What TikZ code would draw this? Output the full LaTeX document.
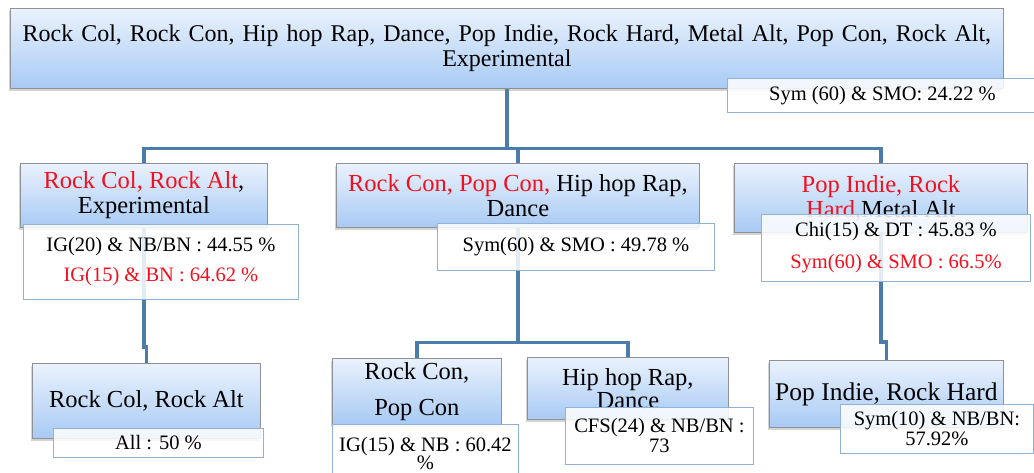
\documentclass[tikz,border=0pt]{standalone}
\usepackage{fontspec}
\setmainfont{Liberation Serif}
\usetikzlibrary{shadows,backgrounds}

\definecolor{boxTop}{HTML}{EAF2FD}
\definecolor{boxBottom}{HTML}{A8CAF4}
\definecolor{boxEdge}{HTML}{8E9296}
\definecolor{linkBlue}{HTML}{4C7DAA}
\definecolor{scoreEdge}{HTML}{8FB2D6}
\definecolor{hiRed}{HTML}{F2101E}

\begin{document}
\begin{tikzpicture}[x=1pt, y=-1pt,
	genre/.style={anchor=north west, draw=boxEdge, line width=0.8pt, top color=boxTop, bottom color=boxBottom, drop shadow={shadow xshift=-1pt, shadow yshift=-3pt, opacity=0.35}, align=center, inner sep=0pt, font=\fontsize{24.5}{25}\selectfont},
	score/.style={anchor=north west, draw=scoreEdge, line width=0.9pt, fill=white, fill opacity=0.85, text opacity=1, align=center, inner sep=0pt, font=\fontsize{20.5}{20}\selectfont},
	link/.style={draw=linkBlue, line width=3.2pt}]
	\useasboundingbox (0,0) rectangle (1034,472);
	% Specification of nodes (position, size)
	\node (Root)		[genre, minimum width=993, minimum height=80, text width=990, font=\fontsize{24}{25.5}\selectfont]	at (10,8)	{Rock Col, Rock Con, Hip hop Rap, Dance, Pop Indie, Rock Hard, Metal Alt, Pop Con, Rock Alt,\\ Experimental};
	\node (RootScore)	[score, minimum width=320, minimum height=34]						at (727,78)	{Sym (60) \& SMO: 24.22 \%\hspace*{10pt}};
	\node (ColAlt)		[genre, minimum width=247, minimum height=64]						at (20,163)	{\textcolor{hiRed}{Rock Col, Rock Alt},\\ Experimental};
	\node (ColAltScore)	[score, minimum width=275, minimum height=75, font=\fontsize{20.5}{30}\selectfont]	at (23,224)	{IG(20) \& NB/BN : 44.55 \%\\ \textcolor{hiRed}{IG(15) \& BN : 64.62 \%}};
	\node (ConPop)		[genre, minimum width=363, minimum height=64]						at (336,163)	{\textcolor{hiRed}{Rock Con, Pop Con,} Hip hop Rap,\\ Dance};
	\node (ConPopScore)	[score, minimum width=277, minimum height=47]						at (437,223)	{Sym(60) \& SMO : 49.78 \%};
	\node (IndieHard)	[genre, minimum width=293, minimum height=69]						at (734,163)	{\textcolor{hiRed}{Pop Indie, Rock}\\ \textcolor{hiRed}{Hard},Metal Alt};
	\node (IndieHardScore)	[score, minimum width=269, minimum height=67, font=\fontsize{20.5}{32}\selectfont]	at (761,214)	{Chi(15) \& DT : 45.83 \%\\ \textcolor{hiRed}{Sym(60) \& SMO : 66.5\%}};
	\node (ColAltLeaf)	[genre, minimum width=228, minimum height=75]						at (32,363)	{Rock Col, Rock Alt};
	\node (ColAltLeafScore)	[score, minimum width=210, minimum height=29]					at (53,428)	{All : 50 \%};
	\node (ConLeaf)		[genre, minimum width=169, minimum height=66, font=\fontsize{24.5}{36}\selectfont]	at (332,358)	{Rock Con,\\ Pop Con};
	\node (ConLeafScore)	[score, minimum width=186, minimum height=58, font=\fontsize{20.5}{18.5}\selectfont]	at (332,424)	{IG(15) \& NB : 60.42\\ \%};
	\node (HipLeaf)		[genre, minimum width=201, minimum height=62, font=\fontsize{24.5}{23}\selectfont]	at (527,357)	{Hip hop Rap,\\ Dance};
	\node (HipLeafScore)	[score, minimum width=188, minimum height=57]					at (565,407)	{CFS(24) \& NB/BN :\\ 73};
	\node (IndieLeaf)	[genre, minimum width=234, minimum height=67, font=\fontsize{25.5}{25}\selectfont]	at (769,360)	{Pop Indie, Rock Hard};
	\node (IndieLeafScore)	[score, minimum width=193, minimum height=49]					at (840,404)	{Sym(10) \& NB/BN:\\ 57.92\%};
	% Connectors behind the boxes
	\begin{pgfonlayer}{background}
	\draw[link]	(Root.south) -- ++(0,60) coordinate (Fork);
	\draw[link]	(Fork) -| (ColAlt.north);
	\draw[link]	(Fork) -| (IndieHard.north);
	\draw[link]	(Fork -| ConPop.north) -- (ConPop.north);
	\draw[link]	(ColAlt.south) |- ([yshift=16pt]ColAltLeaf.north) -- (ColAltLeaf.north);
	\draw[link]	(ConPop.south) -- ++(0,115) coordinate (Split);
	\draw[link]	(Split) -| (ConLeaf.north);
	\draw[link]	(Split) -| (HipLeaf.north);
	\draw[link]	(IndieHard.south) |- ([yshift=18pt]IndieLeaf.north) -- (IndieLeaf.north);
	\end{pgfonlayer}
\end{tikzpicture}
\end{document}
